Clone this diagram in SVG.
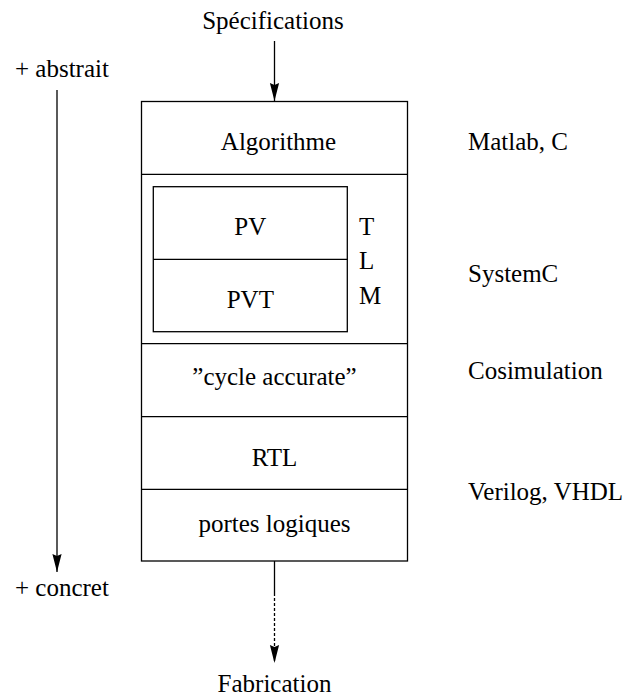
<svg xmlns="http://www.w3.org/2000/svg" width="627" height="697" viewBox="0 0 627 697" font-family="'Liberation Serif', 'Times New Roman', serif" font-size="25">
<style>
.c{text-anchor:middle}
.box{fill:none;stroke:#000;stroke-width:1.3}
.ln{stroke:#000;stroke-width:1.3;fill:none}
.dash{stroke:#000;stroke-width:1.3;fill:none;stroke-dasharray:3 2}
</style>
<defs>
<marker id="ah" markerUnits="userSpaceOnUse" markerWidth="20" markerHeight="12" viewBox="-19 -6 20 12" refX="0" refY="0" orient="auto">
<path d="M0,0 L-18,-4.6 L-16,0 L-18,4.6 Z" fill="#000"/>
</marker>
</defs>
<g id="connectors">
<line class="ln" x1="274.5" y1="41" x2="274.5" y2="101" marker-end="url(#ah)"/>
<line class="ln" x1="57" y1="90" x2="57" y2="572" marker-end="url(#ah)"/>
<line class="ln" x1="274.5" y1="561" x2="274.5" y2="593"/>
<line class="dash" x1="274.5" y1="593" x2="274.5" y2="663" marker-end="url(#ah)"/>
</g>
<g id="specifications"><text class="c" x="273" y="29">Spécifications</text></g>
<g id="fabrication"><text class="c" x="274.5" y="692">Fabrication</text></g>
<g id="abstrait"><text x="15" y="77">+ abstrait</text></g>
<g id="concret"><text x="15" y="596">+ concret</text></g>
<g id="stack">
<rect class="box" x="141.5" y="101.5" width="266" height="459.5"/>
</g>
<g id="algorithme">
<line class="ln" x1="141.5" y1="174.3" x2="407.5" y2="174.3"/>
<text class="c" x="278.5" y="150">Algorithme</text>
</g>
<g id="tlm">
<rect class="box" x="153.3" y="186.7" width="194" height="145"/>
<line class="ln" x1="153.3" y1="259.3" x2="347.3" y2="259.3"/>
<text class="c" x="250.3" y="235">PV</text>
<text class="c" x="250.3" y="308">PVT</text>
<text x="359" y="235">T</text>
<text x="359" y="269">L</text>
<text x="359" y="304">M</text>
</g>
<g id="cycle">
<line class="ln" x1="141.5" y1="343.7" x2="407.5" y2="343.7"/>
<text class="c" x="274.5" y="385">”cycle accurate”</text>
</g>
<g id="rtl">
<line class="ln" x1="141.5" y1="416.7" x2="407.5" y2="416.7"/>
<text class="c" x="274.5" y="466">RTL</text>
</g>
<g id="portes">
<line class="ln" x1="141.5" y1="489.3" x2="407.5" y2="489.3"/>
<text class="c" x="274.5" y="532">portes logiques</text>
</g>
<g id="labels">
<text x="468" y="150">Matlab, C</text>
<text x="468" y="282">SystemC</text>
<text x="468" y="379">Cosimulation</text>
<text x="468" y="500">Verilog, VHDL</text>
</g>
</svg>
